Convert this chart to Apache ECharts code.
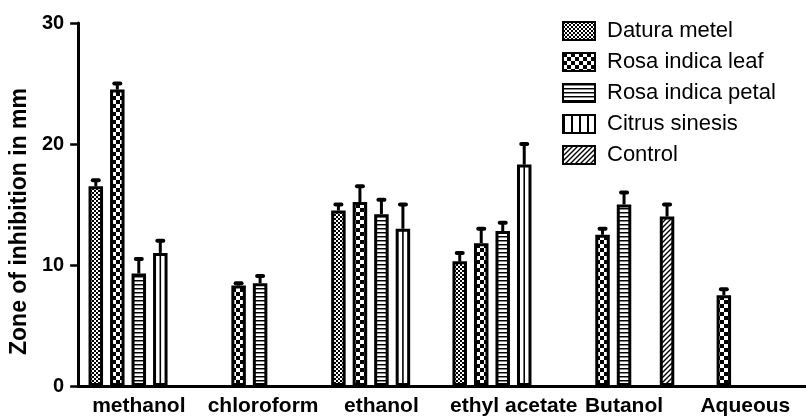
<!DOCTYPE html>
<html>
<head>
<meta charset="utf-8">
<script src="https://cdn.jsdelivr.net/npm/echarts@6/dist/echarts.min.js"></script>
<style>
  html, body { margin: 0; padding: 0; background: #fff; }
  #chart { width: 806px; height: 417px; }
</style>
</head>
<body>
<div id="chart"></div>
<script>
// Solvent extracts on the category axis
const categories = ['methanol', 'chloroform', 'ethanol', 'ethyl acetate', 'Butanol', 'Aqueous'];

// Mean zone of inhibition (mm) and SEM for each source
const daturaMetel = [16.5, null, 14.5, 10.3, null, null];
const daturaMetelErr = [0.5, null, 0.5, 0.7, null, null];

const rosaLeaf = [24.5, 8.3, 15.2, 11.8, 12.5, 7.5];
const rosaLeafErr = [0.5, 0.2, 1.3, 1.2, 0.5, 0.5];

const rosaPetal = [9.3, 8.5, 14.2, 12.8, 15.0, null];
const rosaPetalErr = [1.2, 0.6, 1.2, 0.7, 1.0, null];

const citrusSinesis = [11.0, null, 13.0, 18.3, null, null];
const citrusSinesisErr = [1.0, null, 2.0, 1.7, null, null];

const control = [null, null, null, null, 14.0, null];
const controlErr = [null, null, null, null, 1.0, null];

const seriesNames = ['Datura metel', 'Rosa indica leaf', 'Rosa indica petal', 'Citrus sinesis', 'Control'];

// ---- fill patterns -------------------------------------------------------
function makePattern(w, h, draw) {
  const c = document.createElement('canvas');
  c.width = w; c.height = h;
  const ctx = c.getContext('2d');
  ctx.fillStyle = '#fff';
  ctx.fillRect(0, 0, w, h);
  ctx.fillStyle = '#000';
  ctx.strokeStyle = '#000';
  draw(ctx);
  return { image: c, repeat: 'repeat' };
}

const fineChecker = makePattern(4, 4, ctx => {
  ctx.fillRect(0, 0, 2, 2);
  ctx.fillRect(2, 2, 2, 2);
});
const coarseChecker = makePattern(8, 8, ctx => {
  ctx.fillRect(0, 0, 4, 4);
  ctx.fillRect(4, 4, 4, 4);
});
const hStripes = makePattern(4, 4, ctx => {
  ctx.fillRect(0, 0, 4, 1);
  ctx.fillStyle = '#888';
  ctx.fillRect(0, 1, 4, 1);
});
const vStripes = makePattern(8, 4, ctx => {
  ctx.fillRect(0, 0, 2, 4);
});
const diagHatch = makePattern(5, 5, ctx => {
  ctx.lineWidth = 1.4;
  ctx.beginPath();
  ctx.moveTo(-1, 6); ctx.lineTo(6, -1);
  ctx.moveTo(-1, 1); ctx.lineTo(1, -1);
  ctx.moveTo(4, 6); ctx.lineTo(6, 4);
  ctx.stroke();
});

const fills = [fineChecker, coarseChecker, hStripes, '#fff', diagHatch];
const values = [daturaMetel, rosaLeaf, rosaPetal, citrusSinesis, control];
const errors = [daturaMetelErr, rosaLeafErr, rosaPetalErr, citrusSinesisErr, controlErr];

const BAR_W = 14.5;
const BAR_GAP = 7; // px between neighbouring bars
const FONT = 'Liberation Sans, Arial, sans-serif';

const barSeries = seriesNames.map((name, i) => ({
  name: name,
  type: 'bar',
  data: values[i],
  barWidth: BAR_W,
  barGap: (BAR_GAP / BAR_W * 100).toFixed(1) + '%',
  itemStyle: { color: fills[i], borderColor: '#000', borderWidth: 3 },
  emphasis: { disabled: true },
  z: 2
}));

// error bars (upper whisker with a rounded cap)
const errData = [];
values.forEach((arr, si) => arr.forEach((v, ci) => {
  if (v != null) errData.push([ci, v, errors[si][ci], si]);
}));

const errorSeries = {
  type: 'custom',
  silent: true,
  z: 5,
  encode: { x: 0, y: 1 },
  data: errData,
  renderItem(params, api) {
    const ci = api.value(0), v = api.value(1), e = api.value(2), si = api.value(3);
    const top = api.coord([ci, v]);
    const x = top[0] + (si - 2) * (BAR_W + BAR_GAP);
    const yEnd = api.coord([ci, v + e])[1];
    const children = [
      { type: 'rect', shape: { x: x - 1.5, y: yEnd, width: 3, height: top[1] - yEnd }, style: { fill: '#000' } },
      { type: 'rect', shape: { x: x - 5, y: yEnd - 2, width: 10, height: 4, r: 2 }, style: { fill: '#000' } }
    ];
    if (si === 3) {
      // centre rule of the vertically striped bars
      const y0 = api.coord([ci, 0])[1];
      children.push({ type: 'line', shape: { x1: x, y1: y0, x2: x, y2: top[1] }, style: { stroke: '#000', lineWidth: 1.6 } });
    }
    return { type: 'group', children };
  }
};

// the long "ethyl acetate" label sits a little right of its tick
const categoryData = categories.map(c => {
  if (c === 'ethyl acetate') return { value: c, textStyle: { padding: [0, 0, 0, 22] } };
  if (c === 'chloroform') return { value: c, textStyle: { padding: [0, 0, 0, 6] } };
  return c;
});

const chart = echarts.init(document.getElementById('chart'), null, { renderer: 'canvas' });
chart.setOption({
  animation: false,
  backgroundColor: '#fff',
  textStyle: { fontFamily: FONT },
  grid: { left: 76, right: -2, top: 23, bottom: 30, containLabel: false },
  legend: {
    orient: 'vertical',
    left: 557,
    top: 14,
    itemWidth: 32,
    itemHeight: 18,
    itemGap: 7,
    icon: 'rect',
    selectedMode: false,
    textStyle: { fontSize: 22, color: '#000', fontFamily: FONT, lineHeight: 24, padding: [0, 0, 0, 7] },
    data: seriesNames.map((n, i) => i === 3 ? { name: n, itemStyle: { color: vStripes } } : { name: n })
  },
  xAxis: {
    type: 'category',
    data: categoryData,
    axisLine: { lineStyle: { color: '#000', width: 3 } },
    axisTick: { alignWithLabel: true, length: 7, lineStyle: { color: '#000', width: 2.5 } },
    axisLabel: { interval: 0, fontSize: 21, fontWeight: 'bold', color: '#000', margin: 10, fontFamily: FONT },
    splitLine: { show: false }
  },
  yAxis: {
    type: 'value',
    min: 0,
    max: 30,
    interval: 10,
    name: 'Zone of inhibition in mm',
    nameLocation: 'middle',
    nameGap: 46,
    nameTextStyle: { fontSize: 23, fontWeight: 'bold', color: '#000', fontFamily: FONT, padding: [0, 34, 0, 0] },
    axisLine: { show: true, lineStyle: { color: '#000', width: 3 } },
    axisTick: { show: true, length: 8, lineStyle: { color: '#000', width: 2.5 } },
    axisLabel: { fontSize: 20, fontWeight: 'bold', color: '#000', margin: 14, fontFamily: FONT },
    splitLine: { show: false }
  },
  series: [...barSeries, errorSeries]
});
</script>
</body>
</html>
